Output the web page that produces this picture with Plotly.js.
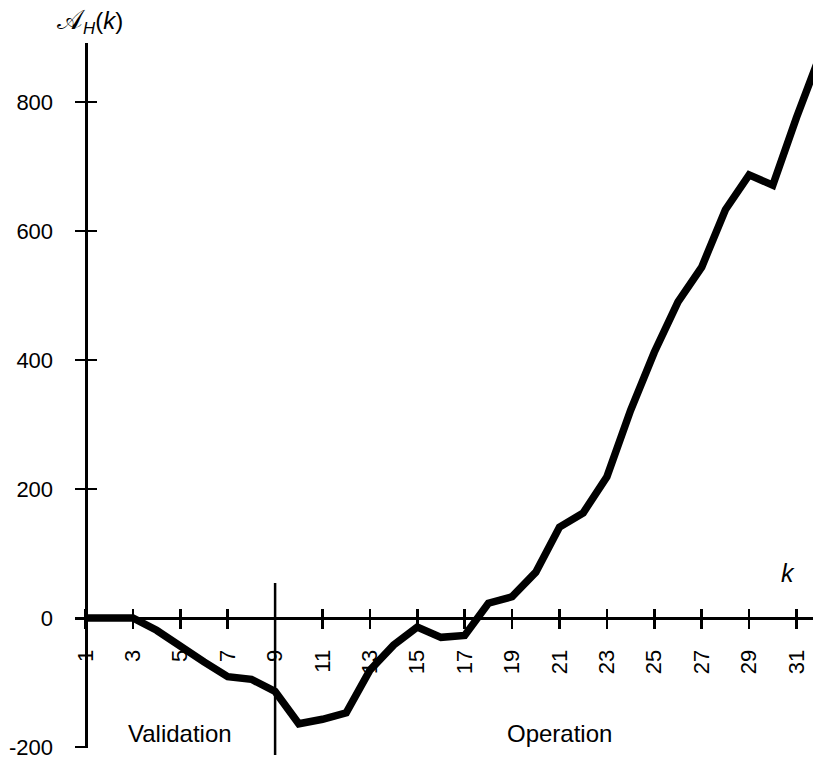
<!DOCTYPE html>
<html>
<head>
<meta charset="utf-8">
<script src="https://cdn.plot.ly/plotly-3.0.1.min.js"></script>
<style>html,body{margin:0;padding:0;background:#fff;}#chart{width:813px;height:764px;}</style>
</head>
<body>
<div id="chart"></div>
<script>
// ---- data ----
const kValues = [1,2,3,4,5,6,7,8,9,10,11,12,13,14,15,16,17,18,19,20,21,22,23,24,25,26,27,28,29,30,31,32];
const aValues = [0,0,0,-19,-45,-68,-91,-95,-114,-164,-157,-147,-81,-42,-14,-30,-27,23,33,71,141,163,219,322,412,490,544,633,687,671,776,873];
const xTickVals = [1,3,5,7,9,11,13,15,17,19,21,23,25,27,29,31];
const xTickText = ["1","3","5","7","9","11","13","15","17","19","21","23","25","27","29","31"];
const yTickVals = [-200,0,200,400,600,800];
const yTickText = ["-200","0","200","400","600","800"];
const dividerK = 9;
const phaseLabels = ["Validation","Operation"];
const phaseK = [5,21];

// ---- layout geometry ----
const W = 813, H = 764;
const k0px = 85.5, pxPerK = 23.7;
const v0px = 618, pxPerV = 0.645;
const kAt = px => 1 + (px - k0px) / pxPerK;
const vAt = px => (v0px - px) / pxPerV;
const xDomain = [75 / W, 1];
const xRange = [kAt(75), kAt(W)];
const yDomain = [1 - 748 / H, 1 - 43 / H];
const yRange = [vAt(748), vAt(43)];
const xAxisPos = 1 - v0px / H;
const yAxisPos = k0px / W;

const font = "Liberation Sans, Arial, Helvetica, sans-serif";

const main = {
  x: kValues, y: aValues, type: 'scatter', mode: 'lines',
  line: {color: '#000', width: 7.5, shape: 'linear'},
  xaxis: 'x', yaxis: 'y', hoverinfo: 'skip', showlegend: false
};
// invisible copies so the overlaid tick-only axes get a subplot
const ghostX = {
  x: kValues, y: aValues, type: 'scatter', mode: 'lines',
  line: {color: 'rgba(0,0,0,0)', width: 0.1},
  xaxis: 'x2', yaxis: 'y', hoverinfo: 'skip', showlegend: false
};
const ghostY = {
  x: kValues, y: aValues, type: 'scatter', mode: 'lines',
  line: {color: 'rgba(0,0,0,0)', width: 0.1},
  xaxis: 'x', yaxis: 'y2', hoverinfo: 'skip', showlegend: false
};

const xCommon = {
  domain: xDomain, range: xRange, anchor: 'free', position: xAxisPos,
  tickmode: 'array', tickvals: xTickVals, ticktext: xTickText,
  showgrid: false, zeroline: false, tickwidth: 2.5, tickcolor: '#000', ticklen: 9
};
const yCommon = {
  domain: yDomain, range: yRange, anchor: 'free', position: yAxisPos, side: 'left',
  tickmode: 'array', tickvals: yTickVals, ticktext: yTickText,
  showgrid: false, zeroline: false, tickwidth: 2.5, tickcolor: '#000', ticklen: 10
};

const layout = {
  width: W, height: H,
  margin: {l: 0, r: 0, t: 0, b: 0, pad: 0},
  paper_bgcolor: '#fff', plot_bgcolor: 'rgba(0,0,0,0)',
  font: {family: font, color: '#000', size: 22},
  showlegend: false,
  xaxis: Object.assign({}, xCommon, {
    ticks: 'outside', showline: true, linecolor: '#000', linewidth: 3,
    tickangle: -90, tickfont: {size: 22, family: font, color: '#000'},
    ticklabelstandoff: 12
  }),
  xaxis2: Object.assign({}, xCommon, {
    overlaying: 'x', side: 'bottom', ticks: 'inside', showline: false, showticklabels: false
  }),
  yaxis: Object.assign({}, yCommon, {
    ticks: 'outside', showline: true, linecolor: '#000', linewidth: 3,
    tickfont: {size: 22, family: font, color: '#000'},
    ticklabelstandoff: 17
  }),
  yaxis2: Object.assign({}, yCommon, {
    overlaying: 'y', ticks: 'inside', showline: false, showticklabels: false
  }),
  shapes: [{
    type: 'line', xref: 'x', yref: 'paper',
    x0: dividerK, x1: dividerK, y0: 1 - 755 / H, y1: 1 - 583 / H,
    line: {color: '#000', width: 2.5}
  }],
  annotations: [
    {text: phaseLabels[0], x: phaseK[0], y: vAt(733), xref: 'x', yref: 'y',
     showarrow: false, xanchor: 'center', yanchor: 'middle', font: {size: 24, family: font}},
    {text: phaseLabels[1], x: phaseK[1], y: vAt(733), xref: 'x', yref: 'y',
     showarrow: false, xanchor: 'center', yanchor: 'middle', font: {size: 24, family: font}},
    {text: '<i>k</i>', x: kAt(788), y: vAt(573), xref: 'x', yref: 'y',
     showarrow: false, xanchor: 'center', yanchor: 'middle', font: {size: 25, family: font}},
    {text: '<span style="font-size:27px">𝒜</span><sub><i>H</i></sub>(<i>k</i>)', x: 90 / W, y: 1 - 22 / H, xref: 'paper', yref: 'paper',
     showarrow: false, xanchor: 'center', yanchor: 'middle', font: {size: 24, family: font}}
  ]
};

Plotly.newPlot('chart', [main, ghostX, ghostY], layout, {staticPlot: true, displayModeBar: false});
</script>
</body>
</html>
